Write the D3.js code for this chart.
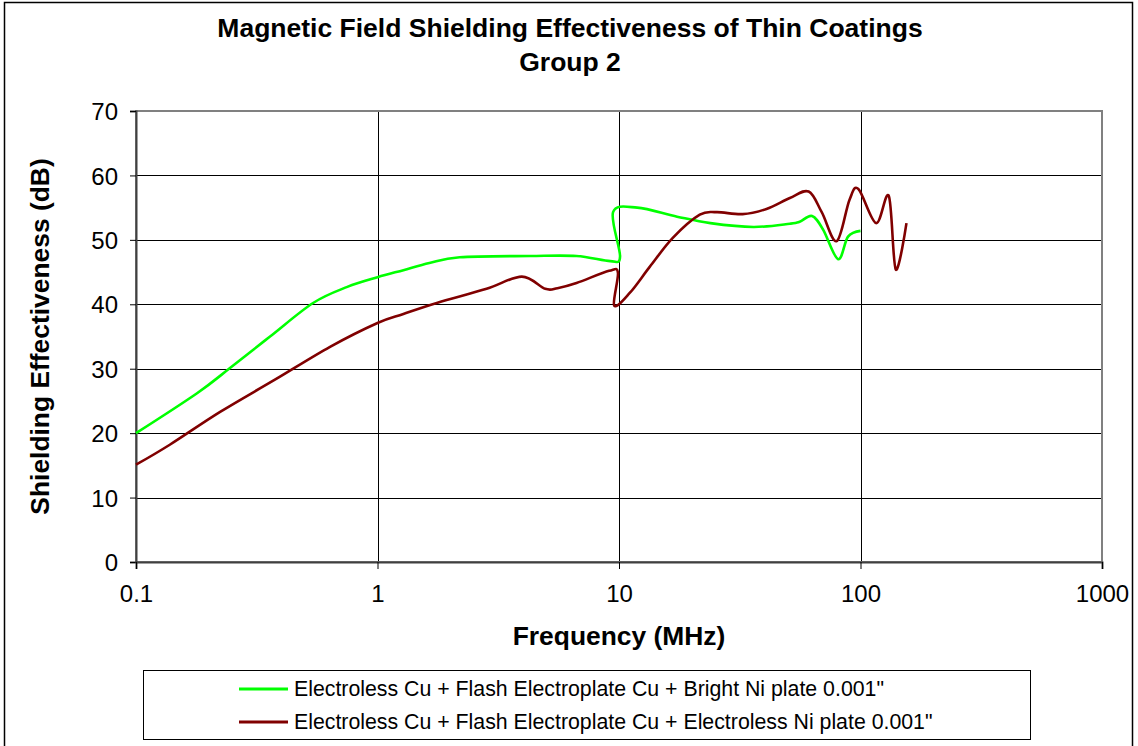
<!DOCTYPE html>
<html>
<head>
<meta charset="utf-8">
<script src="https://cdn.jsdelivr.net/npm/d3@7"></script>
<style>
body { margin: 0; background: #fff; }
text { font-family: "Liberation Sans", Arial, sans-serif; }
</style>
</head>
<body>
<script>
var width = 1138
var height = 746

// tick values
var xTicks = [0.1, 1, 10, 100, 1000]
var yTicks = [0, 10, 20, 30, 40, 50, 60, 70]

// series
var greenFreq = [0.1, 0.179, 0.245, 0.359, 0.541, 0.75, 1.0, 1.28, 1.64, 2.19, 4.28, 6.67, 9.2, 10.1, 9.45, 11.9, 17.4, 23.9, 36, 51, 56, 63, 70, 80.8, 88.8, 100]
var greenSE = [20.0, 26.2, 30.1, 35.0, 40.2, 42.7, 44.2, 45.3, 46.4, 47.3, 47.5, 47.5, 46.7, 47.4, 54.3, 55.0, 53.6, 52.6, 52.0, 52.5, 52.8, 53.7, 51.6, 47.0, 50.5, 51.4]

var redFreq = [0.1, 0.138, 0.223, 0.376, 0.636, 1.0, 1.28, 1.76, 2.83, 3.96, 4.95, 5.56, 6.67, 9.1, 9.9, 9.55, 11.1, 13.4, 16.7, 21.6, 25.4, 32.5, 40.8, 51, 61, 69.1, 79.7, 90, 98, 116, 131, 140, 155]
var redSE = [15.1, 18.2, 23.3, 28.3, 33.4, 37.1, 38.5, 40.2, 42.4, 44.3, 42.4, 42.5, 43.3, 45.2, 44.9, 39.8, 41.8, 45.8, 50.3, 53.9, 54.3, 54.0, 54.8, 56.5, 57.5, 54.3, 49.8, 56.2, 57.9, 52.6, 56.8, 45.4, 52.6]

var seriesNames = ["Electroless Cu + Flash Electroplate Cu + Bright Ni plate 0.001\"",
                   "Electroless Cu + Flash Electroplate Cu + Electroless Ni plate 0.001\""]
var seriesColors = ["#00ff00", "#800000"]

var plot = {left: 136, right: 1102, top: 111, bottom: 562}

var x = d3.scaleLog()
.domain([0.1, 1000])
.range([plot.left, plot.right])

var y = d3.scaleLinear()
.domain([0, 70])
.range([plot.bottom, plot.top])

var svg = d3.select("body").append("svg")
.attr("width", width)
.attr("height", height)

// outer chart frame
svg.append("rect")
.attr("x", 4.5).attr("y", 2.5)
.attr("width", 1128).attr("height", 760)
.attr("fill", "white")
.attr("stroke", "black")
.attr("stroke-width", 1.5)

// gridlines
svg.append("g")
.selectAll("line")
.data(yTicks.slice(1))
.enter().append("line")
.attr("x1", plot.left).attr("x2", plot.right)
.attr("y1", function(d) { return Math.round(y(d)) + 0.5 })
.attr("y2", function(d) { return Math.round(y(d)) + 0.5 })
.attr("stroke", "black")
.attr("stroke-width", 1)

svg.append("g")
.selectAll("line")
.data(xTicks.slice(1))
.enter().append("line")
.attr("x1", function(d) { return Math.round(x(d)) + 0.5 })
.attr("x2", function(d) { return Math.round(x(d)) + 0.5 })
.attr("y1", plot.top).attr("y2", plot.bottom)
.attr("stroke", "black")
.attr("stroke-width", 1)

// plot area border
svg.append("rect")
.attr("x", plot.left).attr("y", plot.top)
.attr("width", plot.right - plot.left).attr("height", plot.bottom - plot.top)
.attr("fill", "none")
.attr("stroke", "#808080")
.attr("stroke-width", 2)

// axes
var yAxis = svg.append("g")
.attr("transform", "translate(" + plot.left + ",0)")
.call(d3.axisLeft(y).tickValues(yTicks).tickSize(6).tickPadding(12).tickFormat(d3.format("d")))
yAxis.select(".domain").attr("stroke", "#404040").attr("stroke-width", 2)
yAxis.selectAll(".tick line").attr("stroke", "black")
yAxis.selectAll("text").style("font-size", "24px").attr("fill", "black").attr("dy", "0.36em")

var xAxis = svg.append("g")
.attr("transform", "translate(0," + plot.bottom + ")")
.call(d3.axisBottom(x).tickValues(xTicks).tickSize(7).tickPadding(16).tickFormat(function(d) { return d < 1 ? "0.1" : String(d) }))
xAxis.select(".domain").attr("stroke", "#404040").attr("stroke-width", 2)
xAxis.selectAll(".tick line").attr("stroke", "black")
xAxis.selectAll("text").style("font-size", "24px").attr("fill", "black")

// curves
var line = d3.line()
.x(function(d) { return x(d[0]) })
.y(function(d) { return y(d[1]) })
.curve(d3.curveCatmullRom.alpha(0))

var series = [d3.zip(greenFreq, greenSE), d3.zip(redFreq, redSE)]

svg.append("g")
.selectAll("path")
.data(series)
.enter().append("path")
.attr("d", line)
.attr("fill", "none")
.attr("stroke", function(d, i) { return seriesColors[i] })
.attr("stroke-width", 2.6)
.attr("stroke-linejoin", "round")

// titles
svg.append("text")
.attr("x", 570).attr("y", 37)
.style("text-anchor", "middle")
.style("font-size", "26.5px").style("font-weight", "bold")
.text("Magnetic Field Shielding Effectiveness of Thin Coatings")

svg.append("text")
.attr("x", 570).attr("y", 71)
.style("text-anchor", "middle")
.style("font-size", "26.5px").style("font-weight", "bold")
.text("Group 2")

svg.append("text")
.attr("x", 619).attr("y", 645)
.style("text-anchor", "middle")
.style("font-size", "26.4px").style("font-weight", "bold")
.text("Frequency (MHz)")

svg.append("text")
.attr("transform", "translate(49," + ((plot.top + plot.bottom) / 2) + ") rotate(-90)")
.style("text-anchor", "middle")
.style("font-size", "26.4px").style("font-weight", "bold")
.text("Shielding Effectiveness (dB)")

// legend
var legend = svg.append("g")
legend.append("rect")
.attr("x", 143.5).attr("y", 670.5)
.attr("width", 887).attr("height", 69)
.attr("fill", "white")
.attr("stroke", "black")
.attr("stroke-width", 1)

var rows = legend.selectAll("g.row")
.data(seriesNames)
.enter().append("g")
.attr("class", "row")
.attr("transform", function(d, i) { return "translate(0," + (689 + i * 33) + ")" })

rows.append("line")
.attr("x1", 239).attr("x2", 288)
.attr("stroke", function(d, i) { return seriesColors[i] })
.attr("stroke-width", 3)

rows.append("text")
.attr("x", 294).attr("dy", "0.35em")
.style("font-size", "21.3px")
.text(function(d) { return d })
</script>
</body>
</html>
